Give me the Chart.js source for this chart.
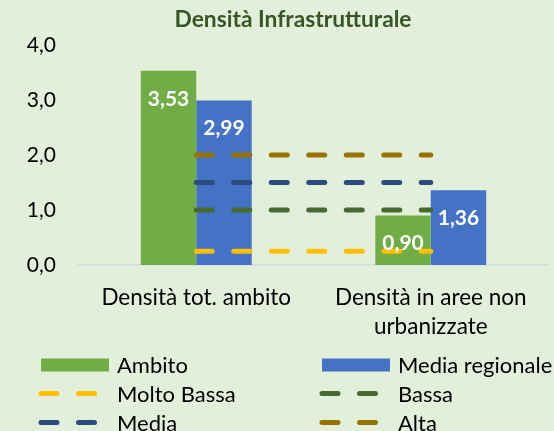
<!DOCTYPE html>
<html>
<head>
<meta charset="utf-8">
<script src="https://cdn.jsdelivr.net/npm/chart.js@4"></script>
<style>
  html, body { margin: 0; padding: 0; background: #e2efda; }
  #wrap { width: 554px; height: 431px; }
</style>
</head>
<body>
<div id="wrap"><canvas id="densChart" width="554" height="431"></canvas></div>
<script>
// categories and values
const categories = [["Densità tot. ambito"], ["Densità in aree non", "urbanizzate"]];
const ambito = [3.53, 0.90];
const mediaRegionale = [2.99, 1.36];

// threshold levels (horizontal dashed references)
const moltoBassa = [0.25, 0.25];
const bassa = [1.0, 1.0];
const media = [1.5, 1.5];
const alta = [2.0, 2.0];

const yTicks = [0, 1, 2, 3, 4];
const titleText = "Densità Infrastrutturale";

const FONT = "Lato, 'Open Sans', sans-serif";
const DASH = [16, 21.5];
const fmt = (v, d) => v.toFixed(d).replace(".", ",");

function dashed(label, values, color) {
  return {
    type: "line",
    label: label,
    data: values,
    borderColor: color,
    backgroundColor: color,
    borderWidth: 5,
    borderDash: DASH,
    borderCapStyle: "round",
    pointRadius: 0,
    pointHoverRadius: 0,
    fill: false,
    order: 0,
  };
}

// title, a bit right of the canvas centre
const chartTitle = {
  id: "chartTitle",
  afterDraw(chart) {
    const ctx = chart.ctx;
    ctx.save();
    ctx.font = "bold 22.75px " + FONT;
    ctx.fillStyle = "#375623";
    ctx.textAlign = "center";
    ctx.textBaseline = "middle";
    ctx.fillText(titleText, 293, 20);
    ctx.restore();
  },
};

// value labels inside the top of each bar
const barLabels = {
  id: "barLabels",
  afterDatasetsDraw(chart) {
    const ctx = chart.ctx;
    ctx.save();
    ctx.font = "bold 21px " + FONT;
    ctx.fillStyle = "#ffffff";
    ctx.textAlign = "center";
    ctx.textBaseline = "middle";
    chart.data.datasets.forEach((ds, i) => {
      if (ds.type !== "bar") return;
      chart.getDatasetMeta(i).data.forEach((bar, j) => {
        ctx.fillText(fmt(ds.data[j], 2), bar.x, bar.y + 28);
      });
    });
    ctx.restore();
  },
};

// two-column legend under the axis
const gridLegend = {
  id: "gridLegend",
  afterDraw(chart) {
    const ctx = chart.ctx;
    const cols = [41, 322];
    const rows = [365, 393.5, 422.5];
    ctx.save();
    ctx.font = "22px " + FONT;
    ctx.textBaseline = "middle";
    ctx.textAlign = "left";
    chart.data.datasets.forEach((ds, i) => {
      const x = cols[i % 2];
      const y = rows[Math.floor(i / 2)];
      if (ds.type === "bar") {
        ctx.fillStyle = ds.backgroundColor;
        ctx.fillRect(x, y - 6.5, 68, 13);
      } else {
        ctx.strokeStyle = ds.borderColor;
        ctx.lineWidth = 5;
        ctx.lineCap = "round";
        ctx.setLineDash(DASH);
        ctx.beginPath();
        ctx.moveTo(x, y);
        ctx.lineTo(x + 53.5, y);
        ctx.stroke();
        ctx.setLineDash([]);
      }
      ctx.fillStyle = "#000000";
      ctx.fillText(ds.label, x + 76, y + 1);
    });
    ctx.restore();
  },
};

new Chart(document.getElementById("densChart"), {
  data: {
    labels: categories,
    datasets: [
      { type: "bar", label: "Ambito", data: ambito, backgroundColor: "#70ad47", order: 1,
        categoryPercentage: 0.473, barPercentage: 1 },
      { type: "bar", label: "Media regionale", data: mediaRegionale, backgroundColor: "#4472c4", order: 1,
        categoryPercentage: 0.473, barPercentage: 1 },
      dashed("Molto Bassa", moltoBassa, "#ffc000"),
      dashed("Bassa", bassa, "#476b2f"),
      dashed("Media", media, "#2c4b7e"),
      dashed("Alta", alta, "#997300"),
    ],
  },
  options: {
    responsive: false,
    animation: false,
    layout: { padding: { left: 0, right: 0, top: 45, bottom: 92 } },
    scales: {
      x: {
        afterFit: (scale) => { scale.height = 74; },
        grid: { display: false, drawTicks: false },
        border: { display: true, color: "#d9d9d9", width: 1.5 },
        ticks: { color: "#000000", font: { family: FONT, size: 22.5, lineHeight: 1.3 }, padding: 18, maxRotation: 0 },
      },
      y: {
        min: 0,
        max: 4,
        afterFit: (scale) => { scale.width = 79; },
        afterBuildTicks: (scale) => { scale.ticks = yTicks.map((v) => ({ value: v })); },
        grid: { display: false, drawTicks: false },
        border: { display: false },
        ticks: { color: "#000000", font: { family: FONT, size: 21 }, padding: 23, callback: (v) => fmt(v, 1) },
      },
      // narrow empty axis on the right edge
      spacer: {
        position: "right",
        min: 0,
        max: 4,
        afterFit: (scale) => { scale.width = 6; },
        grid: { display: false, drawTicks: false },
        border: { display: false },
        ticks: { display: false },
      },
    },
    plugins: {
      legend: { display: false },
      tooltip: { enabled: false },
      title: { display: false },
    },
  },
  plugins: [barLabels, gridLegend, chartTitle],
});
</script>
</body>
</html>
